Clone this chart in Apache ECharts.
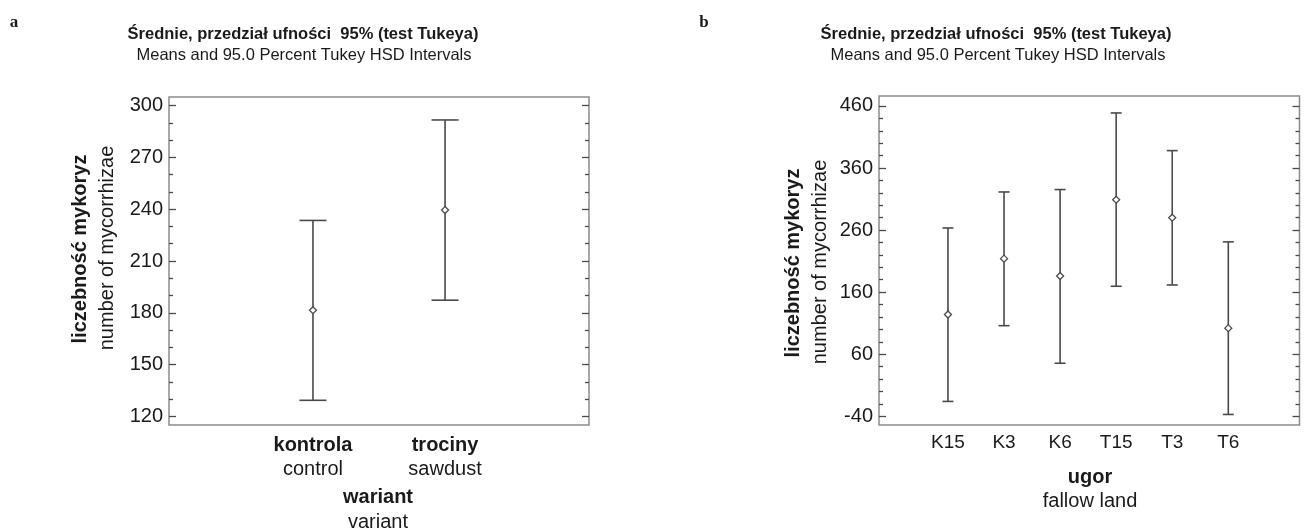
<!DOCTYPE html>
<html>
<head>
<meta charset="utf-8">
<script src="https://cdn.jsdelivr.net/npm/echarts@6/dist/echarts.min.js"></script>
<style>
html,body{margin:0;padding:0;background:#fff;}
#chart{width:1309px;height:530px;}
</style>
</head>
<body>
<div id="chart"></div>
<script>
// ---- Panel a data ----
const catA = ['kontrola', 'trociny'];
const catAEn = ['control', 'sawdust'];
const meanA = [181.5, 239.5];
const lowA = [129.3, 187.3];
const highA = [233.5, 291.7];
const yMajorA = [120, 150, 180, 210, 240, 270, 300];
const yMinorA = [130, 140, 160, 170, 190, 200, 220, 230, 250, 260, 280, 290];

// ---- Panel b data ----
const catB = ['K15', 'K3', 'K6', 'T15', 'T3', 'T6'];
const meanB = [124, 214, 186, 309, 280, 102];
const lowB = [-16, 106, 45.5, 169.5, 171.6, -37];
const highB = [263.4, 321.4, 325.3, 448.7, 388, 241];
const yMajorB = [-40, 60, 160, 260, 360, 460];
const yMinorB = [-20, 0, 20, 40, 80, 100, 120, 140, 180, 200, 220, 240, 280, 300, 320, 340, 380, 400, 420, 440];

const SANS = '"Liberation Sans", Arial, sans-serif';
const TXT = '#1a1a1a';
const LINE = '#4a4a4a';
const BORDER = '#8c8c8c';

function makeData(mean, low, high) {
  return mean.map((m, i) => [i + 1, m, low[i], high[i]]);
}

function renderBars(capHalf) {
  return function (params, api) {
    const x = api.value(0);
    const m = api.coord([x, api.value(1)]);
    const lo = api.coord([x, api.value(2)]);
    const hi = api.coord([x, api.value(3)]);
    const r = 3.5;
    const st = { stroke: LINE, lineWidth: 1.6, fill: null };
    return {
      type: 'group',
      children: [
        { type: 'line', shape: { x1: lo[0], y1: lo[1], x2: hi[0], y2: hi[1] }, style: st },
        { type: 'line', shape: { x1: hi[0] - capHalf, y1: hi[1], x2: hi[0] + capHalf, y2: hi[1] }, style: st },
        { type: 'line', shape: { x1: lo[0] - capHalf, y1: lo[1], x2: lo[0] + capHalf, y2: lo[1] }, style: st },
        { type: 'polygon', shape: { points: [[m[0], m[1] - r], [m[0] + r, m[1]], [m[0], m[1] + r], [m[0] - r, m[1]]] },
          style: { stroke: LINE, lineWidth: 1.3, fill: '#fff' } }
      ]
    };
  };
}

function tickAxis(gridIndex, min, max, pos, values, len) {
  return { type: 'value', gridIndex, min, max, position: pos,
    splitLine: { show: false }, axisLine: { show: false },
    axisTick: { show: true, inside: true, length: len, customValues: values, lineStyle: { color: LINE, width: 1.3 } },
    axisLabel: { show: false } };
}

function yAxes(gridIndex, min, max, major, minor) {
  return [
    { type: 'value', gridIndex, min, max, position: 'left',
      splitLine: { show: false }, axisLine: { show: false }, axisTick: { show: false },
      axisLabel: { show: true, customValues: major, margin: 6, fontSize: 20, fontFamily: SANS, color: TXT } },
    tickAxis(gridIndex, min, max, 'left', major, 7),
    tickAxis(gridIndex, min, max, 'left', minor, 4),
    tickAxis(gridIndex, min, max, 'right', major, 7),
    tickAxis(gridIndex, min, max, 'right', minor, 4)
  ];
}

function txt(x, y, text, font, rotation) {
  return { type: 'text', x, y, rotation: rotation || 0,
    style: { text, font, fill: TXT, textAlign: 'center', textVerticalAlign: 'middle' } };
}

const option = {
  animation: false,
  backgroundColor: '#fff',
  grid: [
    { left: 169, top: 97, width: 420, height: 328, show: true, borderColor: BORDER, borderWidth: 1.5, backgroundColor: 'transparent' },
    { left: 879, top: 96, width: 420.5, height: 329, show: true, borderColor: BORDER, borderWidth: 1.5, backgroundColor: 'transparent' }
  ],
  xAxis: [
    { type: 'value', gridIndex: 0, min: -0.09, max: 3.09, splitLine: { show: false }, axisLine: { show: false },
      axisTick: { show: false },
      axisLabel: { show: true, customValues: [1, 2], margin: 8, lineHeight: 24,
        formatter: v => '{b|' + catA[Math.round(v) - 1] + '}\n{r|' + catAEn[Math.round(v) - 1] + '}',
        rich: {
          b: { fontSize: 20, fontWeight: 'bold', fontFamily: SANS, color: TXT, lineHeight: 24 },
          r: { fontSize: 20, fontFamily: SANS, color: TXT, lineHeight: 24 }
        } } },
    { type: 'value', gridIndex: 1, min: -0.23, max: 7.27, splitLine: { show: false }, axisLine: { show: false },
      axisTick: { show: false },
      axisLabel: { show: true, customValues: [1, 2, 3, 4, 5, 6], margin: 8,
        formatter: v => catB[Math.round(v) - 1], fontSize: 19, fontFamily: SANS, color: TXT } }
  ],
  yAxis: [].concat(yAxes(0, 115, 305, yMajorA, yMinorA), yAxes(1, -54, 476, yMajorB, yMinorB)),
  series: [
    { type: 'custom', xAxisIndex: 0, yAxisIndex: 0, renderItem: renderBars(13.5),
      encode: { x: 0, y: [1, 2, 3] }, data: makeData(meanA, lowA, highA) },
    { type: 'custom', xAxisIndex: 1, yAxisIndex: 5, renderItem: renderBars(5.5),
      encode: { x: 0, y: [1, 2, 3] }, data: makeData(meanB, lowB, highB) }
  ],
  graphic: [
    txt(14, 23, 'a', 'bold 17px "Liberation Serif", serif'),
    txt(704, 22.5, 'b', 'bold 17px "Liberation Serif", serif'),
    txt(303, 34, 'Średnie, przedział ufności  95% (test Tukeya)', 'bold 16.5px ' + SANS),
    txt(304, 55, 'Means and 95.0 Percent Tukey HSD Intervals', '16.5px ' + SANS),
    txt(996, 34, 'Średnie, przedział ufności  95% (test Tukeya)', 'bold 16.5px ' + SANS),
    txt(998, 55, 'Means and 95.0 Percent Tukey HSD Intervals', '16.5px ' + SANS),
    txt(80, 249, 'liczebność mykoryz', 'bold 20px ' + SANS, Math.PI / 2),
    txt(107, 248, 'number of mycorrhizae', '20px ' + SANS, Math.PI / 2),
    txt(793, 263, 'liczebność mykoryz', 'bold 20px ' + SANS, Math.PI / 2),
    txt(820, 262, 'number of mycorrhizae', '20px ' + SANS, Math.PI / 2),
    txt(378, 497, 'wariant', 'bold 20px ' + SANS),
    txt(378, 522, 'variant', '20px ' + SANS),
    txt(1090, 477, 'ugor', 'bold 20px ' + SANS),
    txt(1090, 501, 'fallow land', '20px ' + SANS)
  ]
};

const chart = echarts.init(document.getElementById('chart'), null, { renderer: 'canvas' });
chart.setOption(option);
</script>
</body>
</html>
